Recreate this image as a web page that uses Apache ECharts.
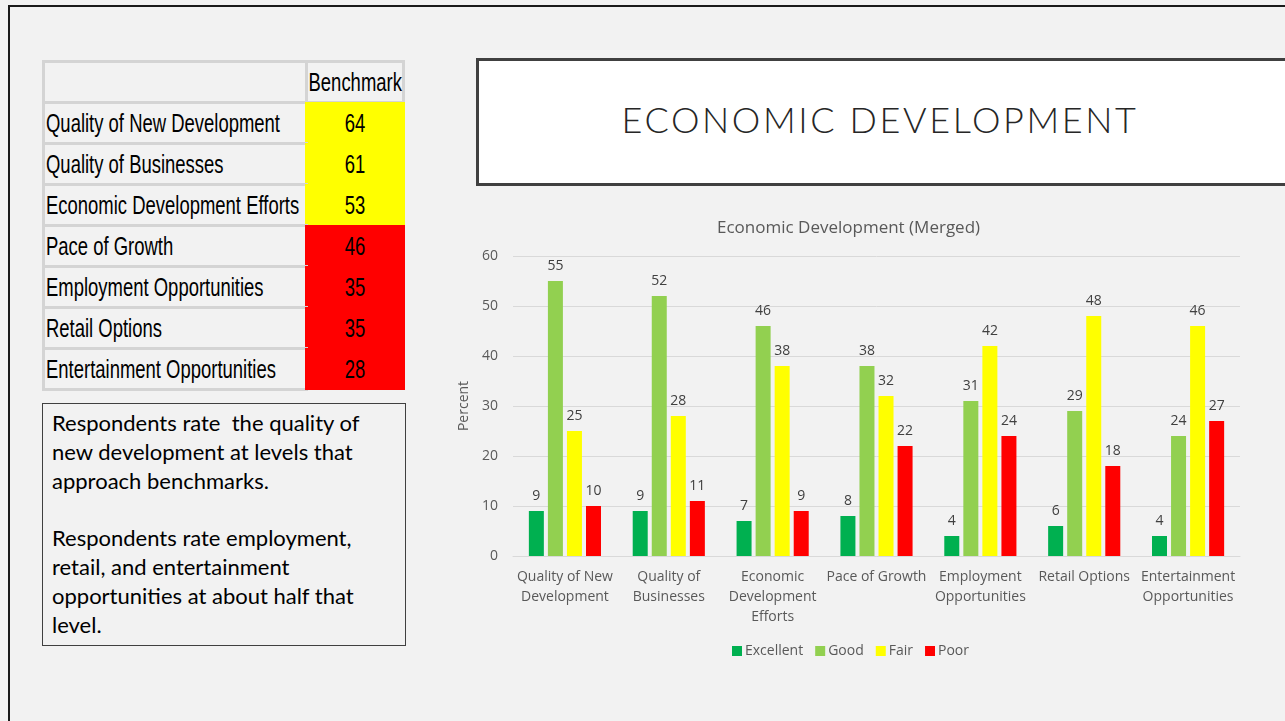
<!DOCTYPE html>
<html>
<head>
<meta charset="utf-8">
<script src="https://cdn.jsdelivr.net/npm/echarts@6/dist/echarts.min.js"></script>
<style>
  html, body { margin:0; padding:0; width:1285px; height:721px; overflow:hidden; background:#f2f2f2; }
  #frame { position:absolute; left:8px; top:5px; width:1300px; height:800px; border:2px solid #1a1a1a; box-sizing:border-box; }
  .cell { position:absolute; box-sizing:border-box; font-family:"Liberation Sans","Arial",sans-serif; font-size:25px; color:#000; line-height:1; display:flex; align-items:center; white-space:nowrap; }
  .cell span { display:inline-block; }
  .lab { border:3px solid #d4d4d4; padding-left:1px; }
  .lab span { transform-origin:left center; }
  .val { justify-content:center; }
  .val span { transform-origin:center center; }
  #note { position:absolute; left:42px; top:403px; width:364px; height:243px; box-sizing:border-box; border:1px solid #404040; padding:5px 0 0 9px; font-family:"Lato","Open Sans",sans-serif; font-size:22px; line-height:28.8px; color:#000; white-space:nowrap; }
  #titlebox { position:absolute; left:476px; top:58px; width:830px; height:128px; box-sizing:border-box; border:3px solid #404040; background:#fff; }
  #titletext { position:absolute; left:476px; top:55px; width:808px; height:128px; display:flex; align-items:center; justify-content:center; font-family:"Lato","Open Sans",sans-serif; font-weight:300; font-size:36px; letter-spacing:2.6px; color:#262626; }
  #chart { position:absolute; left:0; top:0; width:1285px; height:721px; }
</style>
</head>
<body>
<div id="frame"></div>
<div id="table"></div>
<div id="note">Respondents rate &nbsp;the quality of<br>new development at levels that<br>approach benchmarks.<br><br>Respondents rate employment,<br>retail, and entertainment<br>opportunities at about half that<br>level.</div>
<div id="titlebox"></div>
<div id="titletext">ECONOMIC DEVELOPMENT</div>
<div id="chart"></div>
<script>
// ---- data ----
var tableItems = ["Quality of New Development","Quality of Businesses","Economic Development Efforts","Pace of Growth","Employment Opportunities","Retail Options","Entertainment Opportunities"];
var benchmarks = [64, 61, 53, 46, 35, 35, 28];
var benchmarkHeader = "Benchmark";

var categories = ["Quality of New\nDevelopment","Quality of\nBusinesses","Economic\nDevelopment\nEfforts","Pace of Growth","Employment\nOpportunities","Retail Options","Entertainment\nOpportunities"];
var excellent = [9, 9, 7, 8, 4, 6, 4];
var good      = [55, 52, 46, 38, 31, 29, 24];
var fair      = [25, 28, 38, 32, 42, 48, 46];
var poor      = [10, 11, 9, 22, 24, 18, 27];
var seriesNames = ["Excellent","Good","Fair","Poor"];
var yTicks = [0, 10, 20, 30, 40, 50, 60];

// ---- table ----
(function(){
  var t = document.getElementById('table');
  var L = 42, split = 305, R = 405, top0 = 60, hh = 41, rh = 41;
  var spans = [];
  function add(cls, x, y, w, h, txt, bg){
    var d = document.createElement('div');
    d.className = 'cell ' + cls;
    d.style.left = x+'px'; d.style.top = y+'px'; d.style.width = w+'px'; d.style.height = h+'px';
    if (bg) d.style.background = bg;
    var s = document.createElement('span');
    s.textContent = txt;
    d.appendChild(s);
    t.appendChild(d);
    spans.push(s);
    return s;
  }
  add('lab', L, top0, split-L+3, hh+3, '');
  add('lab val', split, top0, R-split, hh+3, benchmarkHeader);
  var ref = null;
  for (var i=0;i<tableItems.length;i++){
    var y = top0 + hh + i*rh;
    var s = add('lab', L, y, split-L+3, rh+3, tableItems[i]);
    if (i === 0) ref = s;
    add('val', split, y+1, R-split, rh+1, String(benchmarks[i]), benchmarks[i] >= 50 ? '#ffff00' : '#ff0000');
  }
  // condense the font to mimic a narrow face
  var k = 234 / ref.getBoundingClientRect().width;
  spans.forEach(function(s){ s.style.transform = 'scaleX(' + k + ')'; });
})();

// ---- chart ----
var colors = ['#00b050','#92d050','#ffff00','#ff0000'];
var font = '"Open Sans", sans-serif';
var seriesData = [excellent, good, fair, poor];
var chart = echarts.init(document.getElementById('chart'), null, {renderer:'canvas'});
chart.setOption({
  backgroundColor: 'transparent',
  animation: false,
  color: colors,
  title: {
    text: 'Economic Development (Merged)',
    left: 712, top: 215,
    textStyle: { fontFamily: font, fontSize: 17, fontWeight: 'normal', color: '#595959' }
  },
  legend: {
    data: seriesNames,
    left: 727, top: 639,
    icon: 'rect', itemWidth: 10, itemHeight: 10, itemGap: 12,
    textStyle: { fontFamily: font, fontSize: 14, color: '#595959', padding:[0,0,0,-2] }
  },
  grid: { left: 513, right: 45, top: 256, bottom: 165, containLabel: false },
  xAxis: {
    type: 'category',
    data: categories,
    axisLine: { lineStyle: { color: '#d9d9d9', width: 1 } },
    axisTick: { show: false },
    axisLabel: { interval: 0, fontFamily: font, fontSize: 14, color: '#595959', lineHeight: 20, margin: 11 }
  },
  yAxis: {
    type: 'value', min: 0, max: 60, interval: 10,
    name: 'Percent', nameLocation: 'middle', nameRotate: 90, nameGap: 38,
    nameTextStyle: { fontFamily: font, fontSize: 14, color: '#595959' },
    axisLine: { show: false }, axisTick: { show: false },
    axisLabel: { fontFamily: font, fontSize: 14, color: '#595959', margin: 15,
      formatter: function(v){ return yTicks.indexOf(v) >= 0 ? String(v) : ''; } },
    splitLine: { lineStyle: { color: '#d9d9d9', width: 1 } }
  },
  series: seriesNames.map(function(n, i){
    return {
      name: n, type: 'bar', data: seriesData[i],
      barWidth: 15, barGap: '27%',
      itemStyle: { color: colors[i] },
      label: { show: true, position: 'top', distance: 8, fontFamily: font, fontSize: 14, color: '#404040' }
    };
  })
});
</script>
</body>
</html>
